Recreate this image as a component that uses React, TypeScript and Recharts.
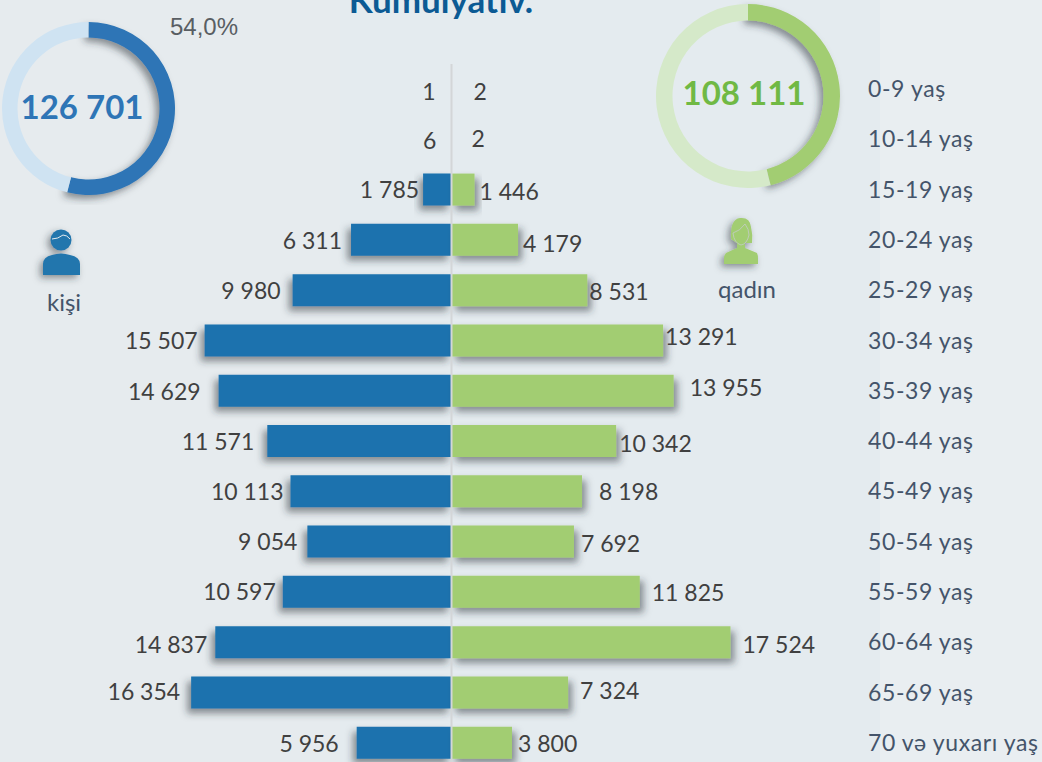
import React from 'react';
import { BarChart, Bar, XAxis, YAxis, ReferenceLine, LabelList, PieChart, Pie, Cell } from 'recharts';

const ageGroups = ['0-9 yaş', '10-14 yaş', '15-19 yaş', '20-24 yaş', '25-29 yaş', '30-34 yaş', '35-39 yaş', '40-44 yaş', '45-49 yaş', '50-54 yaş', '55-59 yaş', '60-64 yaş', '65-69 yaş', '70 və yuxarı yaş'];
const menValues = [1, 6, 1785, 6311, 9980, 15507, 14629, 11571, 10113, 9054, 10597, 14837, 16354, 5956];
const womenValues = [2, 2, 1446, 4179, 8531, 13291, 13955, 10342, 8198, 7692, 11825, 17524, 7324, 3800];
const menTotal = 126701;
const womenTotal = 108111;

const chartData = ageGroups.map((age, i) => ({ age, men: -menValues[i], women: womenValues[i] }));
const menPie = [{ name: 'kişi', value: menTotal }, { name: 'qadın', value: womenTotal }];
const womenPie = [{ name: 'qadın', value: womenTotal }, { name: 'kişi', value: menTotal }];

/* hand placed labels in the original: gap from bar end, and vertical nudge */
const menGap = [16, 15, 4, 9, 12, 7, 18, 13, 7, 10, 7, 8, 11, 18];
const menNudge = [1.5, 1, -1, 0, -0.5, 0, 0, 0, -0.5, -1, -1, 1.5, -1, 0];
const womenGap = [22, 20, 5, 5, 2, 2, 16, 3, 17, 7, 12, 12, 12, 6];
const womenNudge = [1.5, -1, 1, 3.5, 0.5, -4, -4, 1.5, 0, 1, 0, 1.5, -2, 0];

const BLUE = '#1b72ae';
const GREEN = '#a2cd72';
const LABEL_FONT = 'Lato, sans-serif';
const fmt = (v: number) => String(Math.abs(v)).replace(/\B(?=(\d{3})+$)/g, ' ');

const BarLabel = ({ x, y, width, height, value, index, side }: any) => {
    const left = Math.min(x, x + width);
    const right = Math.max(x, x + width);
    const isMen = side === 'men';
    const nudge = (isMen ? menNudge : womenNudge)[index];
    const gap = (isMen ? menGap : womenGap)[index];
    return (
        <text
            x={isMen ? left - gap : right + gap}
            y={y + height / 2 + nudge + 1}
            dy="0.35em"
            textAnchor={isMen ? 'end' : 'start'}
            fontSize={23}
            fontFamily={LABEL_FONT}
            fill="#404040"
        >
            {fmt(value)}
        </text>
    );
};

const AgeTick = ({ x, y, payload }: any) => (
    <text x={x - 166} y={y} dy="0.35em" fontSize={23} letterSpacing={0.6} fontFamily={LABEL_FONT} fill="#44546a">
        {payload.value}
    </text>
);

const Shadow = ({ id, dx, dy, blur = 3.5 }: { id: string; dx: number; dy: number; blur?: number }) => (
    <filter id={id} x="-30%" y="-30%" width="160%" height="170%">
        <feDropShadow dx={dx} dy={dy} stdDeviation={blur} floodColor="#2b3138" floodOpacity={0.5} />
    </filter>
);

const Donut = ({ data, left, top, r, inner, main, light, fid }: any) => (
    <div style={{ position: 'absolute', left: left - r - 10, top: top - r - 10 }}>
        <PieChart width={2 * r + 20} height={2 * r + 20} margin={{ top: 0, right: 0, bottom: 0, left: 0 }}>
            <defs>
                <Shadow id={fid} dx={-4} dy={4} />
            </defs>
            <Pie
                data={data}
                dataKey="value"
                cx="50%"
                cy="50%"
                innerRadius={inner}
                outerRadius={r}
                startAngle={90}
                endAngle={-270}
                stroke="none"
                isAnimationActive={false}
            >
                <Cell fill={main} filter={`url(#${fid})`} />
                <Cell fill={light} />
            </Pie>
        </PieChart>
    </div>
);

const Caption = ({ x, y, size, color, bold, font, children }: any) => (
    <div style={{
        position: 'absolute', left: x, top: y, transform: 'translate(-50%, -50%)', whiteSpace: 'nowrap',
        fontSize: size, color, fontWeight: bold ? 700 : 400, fontFamily: font ?? LABEL_FONT, lineHeight: 1,
    }}>
        {children}
    </div>
);

const ManIcon = () => (
    <svg width={60} height={70} style={{ position: 'absolute', left: 34, top: 220, overflow: 'visible' }}>
        <defs><Shadow id="iconM" dx={-3} dy={3} /></defs>
        <g filter="url(#iconM)" fill="#2476ad">
            <circle cx={27} cy={20} r={10.5} />
            <path d="M9 55 L9 44 Q9 37 18 35 Q27 32 36 35 Q46 37 46 44 L46 55 Z" />
        </g>
        <path d="M18 19 Q24 19 29 15 Q33 15 36 19" fill="none" stroke="#e6ecf0" strokeWidth={1} />
    </svg>
);

const WomanIcon = () => (
    <svg width={60} height={70} style={{ position: 'absolute', left: 714, top: 215, overflow: 'visible' }}>
        <defs><Shadow id="iconW" dx={-3} dy={3} /></defs>
        <g filter="url(#iconW)" fill={GREEN}>
            <path d="M17 24 Q16 4 26 3 Q36 2 37 12 Q39 20 38 28 L31 28 L31 33 L43 38 Q44 40 44 44 L44 49 L10 49 L10 44 Q10 40 12 38 L23 33 L23 28 Z" />
        </g>
        <path d="M19 18 Q26 16 31 9 Q35 14 35 20 Q33 29 27 30 Q20 28 19 18 Z" fill="none" stroke="#c4ccc8" strokeWidth={0.8} />
    </svg>
);

export default function App() {
    return (
        <div style={{ position: 'absolute', left: 0, top: 0, width: 1042, height: 762, overflow: 'hidden', background: '#e6ebee' }}>
            <div style={{ position: 'absolute', left: 340, top: 0, width: 540, height: 762, background: '#e4ebef' }} />
            <div style={{ position: 'absolute', left: 880, top: 0, width: 162, height: 762, background: '#e9eef1' }} />

            <div style={{ position: 'absolute', left: 0, top: 0 }}>
                <BarChart
                    width={1042}
                    height={768}
                    data={chartData}
                    layout="vertical"
                    stackOffset="sign"
                    barSize={32}
                    margin={{ top: 64, right: 0, bottom: 0, left: 0 }}
                >
                    <defs>
                        <Shadow id="shadowL" dx={-4} dy={5} />
                        <Shadow id="shadowR" dx={4} dy={5} />
                    </defs>
                    <XAxis type="number" domain={[-28361, 37092]} hide />
                    <YAxis
                        type="category"
                        dataKey="age"
                        orientation="right"
                        mirror
                        width={174}
                        axisLine={false}
                        tickLine={false}
                        interval={0}
                        tick={<AgeTick />}
                    />
                    <Bar dataKey="men" stackId="a" fill={BLUE} filter="url(#shadowL)" isAnimationActive={false}>
                        <LabelList dataKey="men" content={(p: any) => <BarLabel {...p} side="men" />} />
                    </Bar>
                    <Bar dataKey="women" stackId="a" fill={GREEN} filter="url(#shadowR)" isAnimationActive={false}>
                        <LabelList dataKey="women" content={(p: any) => <BarLabel {...p} side="women" />} />
                    </Bar>
                    <ReferenceLine x={0} stroke="#d3d6d8" strokeWidth={2} />
                </BarChart>
            </div>

            <Donut data={menPie} left={88} top={108} r={86.5} inner={71} main="#2d75b6" light="#cfe3f2" fid="ringM" />
            <Donut data={womenPie} left={748} top={96} r={92} inner={75.5} main={GREEN} light="#d5e9c9" fid="ringW" />

            <Caption x={82} y={106} size={33} color="#2e75b6" bold>{fmt(menTotal)}</Caption>
            <Caption x={744} y={92} size={33} color="#70b944" bold>{fmt(womenTotal)}</Caption>
            <Caption x={204} y={27} size={24} color="#595e63" font="'Liberation Sans', sans-serif">54,0%</Caption>
            <Caption x={64} y={302} size={24} color="#44546a">kişi</Caption>
            <Caption x={747} y={289} size={24} color="#44546a">qadın</Caption>
            <Caption x={441} y={-1} size={35} color="#0b5a94" bold>Kumulyativ.</Caption>

            <ManIcon />
            <WomanIcon />
        </div>
    );
}
